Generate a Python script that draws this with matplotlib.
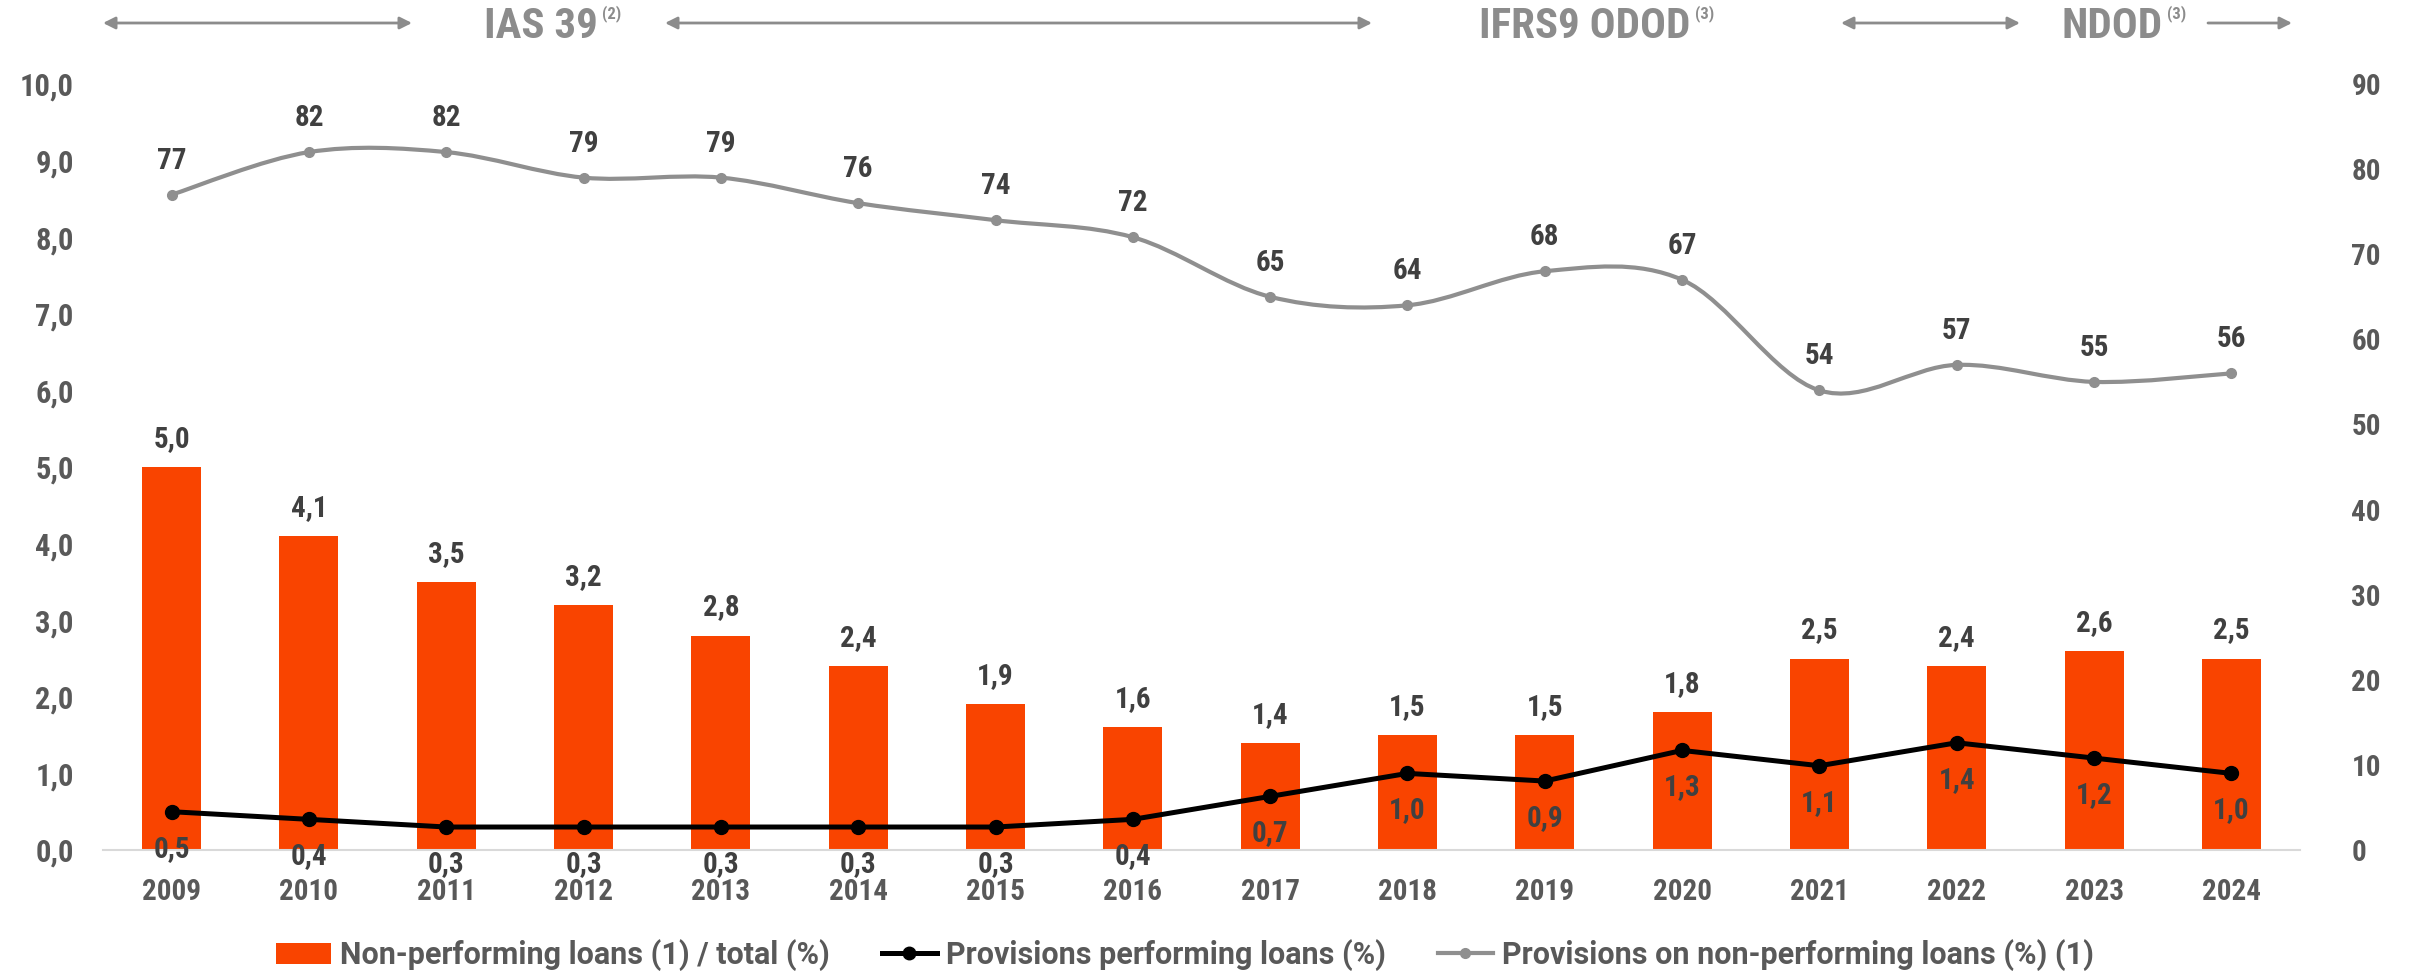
import numpy as np
import matplotlib
matplotlib.use('Agg')
import matplotlib.pyplot as plt
from matplotlib import font_manager
from matplotlib.path import Path
from matplotlib.patches import PathPatch, Patch, FancyArrowPatch
from matplotlib.lines import Line2D

# data
years = ['2009', '2010', '2011', '2012', '2013', '2014', '2015', '2016',
         '2017', '2018', '2019', '2020', '2021', '2022', '2023', '2024']
npl_ratio = [5.0, 4.1, 3.5, 3.2, 2.8, 2.4, 1.9, 1.6, 1.4, 1.5, 1.5, 1.8, 2.5, 2.4, 2.6, 2.5]  # bars, left axis
prov_performing = [0.5, 0.4, 0.3, 0.3, 0.3, 0.3, 0.3, 0.4, 0.7, 1.0, 0.9, 1.3, 1.1, 1.4, 1.2, 1.0]  # black line, left axis
prov_npl = [77, 82, 82, 79, 79, 76, 74, 72, 65, 64, 68, 67, 54, 57, 55, 56]  # grey line, right axis

legend_labels = ['Non-performing loans (1) / total (%)',
                 'Provisions performing loans (%)',
                 'Provisions on non-performing loans (%) (1)']

# colours
orange = '#F94400'
grey_line = '#8F8F8F'
label_col = '#404040'
tick_col = '#595959'
head_col = '#8C8C8C'

# look for a condensed / narrow font, else fall back to Roboto
fonts = font_manager.fontManager.ttflist
narrow = [f for f in fonts if 'Condensed' in f.fname or 'Narrow' in f.fname or f.stretch in ('condensed', 'semi-condensed')]
font = None
for pref in ['Roboto Condensed', 'Liberation Sans Narrow', 'Open Sans Condensed', 'Noto Sans Condensed',
             'DejaVu Sans Condensed', 'Noto Sans', 'Open Sans', 'DejaVu Sans']:
    if any(f.name == pref for f in narrow):
        font = pref
        break
if font is None and narrow:
    font = narrow[0].name
if font is None:
    font = 'Roboto'
else:
    plt.rcParams['font.stretch'] = 'condensed'
plt.rcParams['font.family'] = [font, 'DejaVu Sans']
plt.rcParams['font.weight'] = 'bold'

fs = 21  # labels, ticks

W, H = 2409, 973
fig = plt.figure(figsize=(W / 100, H / 100), dpi=100)
ax = fig.add_axes([103 / W, 1 - 850 / H, (2300 - 103) / W, (850 - 84) / H])
ax2 = ax.twinx()

x = np.arange(len(years))

# bars + black line (left axis)
ax.bar(x, npl_ratio, width=0.43, color=orange, zorder=2)
ax.plot(x, prov_performing, color='black', lw=3.6, marker='o', markersize=10, zorder=3)

for i, v in enumerate(npl_ratio):
    ax.annotate(f'{v:.1f}'.replace('.', ','), (i, v), xytext=(0, 28), textcoords='offset pixels',
                ha='center', va='center', fontsize=fs, color=label_col, fontweight='bold')
for i, v in enumerate(prov_performing):
    ax.annotate(f'{v:.1f}'.replace('.', ','), (i, v), xytext=(0, -37), textcoords='offset pixels',
                ha='center', va='center', fontsize=fs, color=label_col, fontweight='bold',
                annotation_clip=False, zorder=4)

# grey smoothed line (right axis), catmull-rom style bezier through the points
pts = np.column_stack([x, prov_npl]).astype(float)
verts = [pts[0]]
codes = [Path.MOVETO]
for i in range(len(pts) - 1):
    p0 = pts[i - 1] if i > 0 else pts[i]
    p3 = pts[i + 2] if i + 2 < len(pts) else pts[i + 1]
    verts += [pts[i] + (pts[i + 1] - p0) / 6, pts[i + 1] - (p3 - pts[i]) / 6, pts[i + 1]]
    codes += [Path.CURVE4] * 3
ax2.add_patch(PathPatch(Path(verts, codes), fill=False, edgecolor=grey_line, lw=3))
ax2.plot(x, prov_npl, linestyle='none', marker='o', markersize=7, color=grey_line)

for i, v in enumerate(prov_npl):
    ax2.annotate(str(v), (i, v), xytext=(0, 34), textcoords='offset pixels',
                 ha='center', va='center', fontsize=fs, color=label_col, fontweight='bold')

# axes
ax.set_xlim(-0.5, 15.5)
ax.set_ylim(0, 10)
ax2.set_ylim(0, 90)
ax.set_xticks(x)
ax.set_xticklabels(years)
ax.set_yticks(np.arange(0, 11, 1))
ax.set_yticklabels([f'{v:.1f}'.replace('.', ',') for v in np.arange(0, 11, 1)])
ax2.set_yticks(np.arange(0, 91, 10))

for a in (ax, ax2):
    for s in ['top', 'left', 'right', 'bottom']:
        a.spines[s].set_visible(False)
ax.spines['bottom'].set_visible(True)
ax.spines['bottom'].set_color('#D9D9D9')
ax.spines['bottom'].set_linewidth(1.5)

ax.tick_params(axis='x', length=0, pad=20, labelsize=fs, labelcolor=tick_col)
ax.tick_params(axis='y', length=0, pad=21, labelsize=22, labelcolor=tick_col)
ax2.tick_params(axis='y', length=0, pad=37, labelsize=fs, labelcolor=tick_col)

# legend (wider font than the labels)
handles = [Patch(facecolor=orange),
           Line2D([], [], color='black', lw=3.6, marker='o', markersize=9),
           Line2D([], [], color=grey_line, lw=3, marker='o', markersize=7)]
leg_font = dict(family=['Roboto', 'DejaVu Sans'], weight='bold', size=22, stretch='normal')
fig.legend(handles, legend_labels, loc='center', bbox_to_anchor=(1185 / W, 1 - 955 / H), ncol=3,
           frameon=False, prop=leg_font, labelcolor=tick_col, handlelength=1.8, handletextpad=0.3,
           columnspacing=1.7)

# header: accounting periods with arrows
y_head = H - 23
def arrow(x1, x2, style):
    fig.add_artist(FancyArrowPatch((x1 * 1.0, y_head), (x2 * 1.0, y_head),
                   transform=None, arrowstyle=style, mutation_scale=18, color=head_col, lw=2,
                   shrinkA=0, shrinkB=0))

arrow(103, 412, '<|-|>')
arrow(665, 1372, '<|-|>')
arrow(1841, 2020, '<|-|>')
arrow(2208, 2292, '-|>')

for txt, sup, xc in [('IAS 39', '(2)', 541), ('IFRS9 ODOD', '(3)', 1585), ('NDOD', '(3)', 2112)]:
    t = fig.text(xc / W, (y_head - 3) / H, txt, ha='center', va='center', fontsize=31,
                 color=head_col, fontweight='bold')
    ax.annotate(sup, xy=(1, 1), xycoords=t, xytext=(3, 0), textcoords='offset points',
                ha='left', va='top', fontsize=12, color=head_col, fontweight='bold',
                annotation_clip=False)

fig.savefig('out.png', dpi=100)
